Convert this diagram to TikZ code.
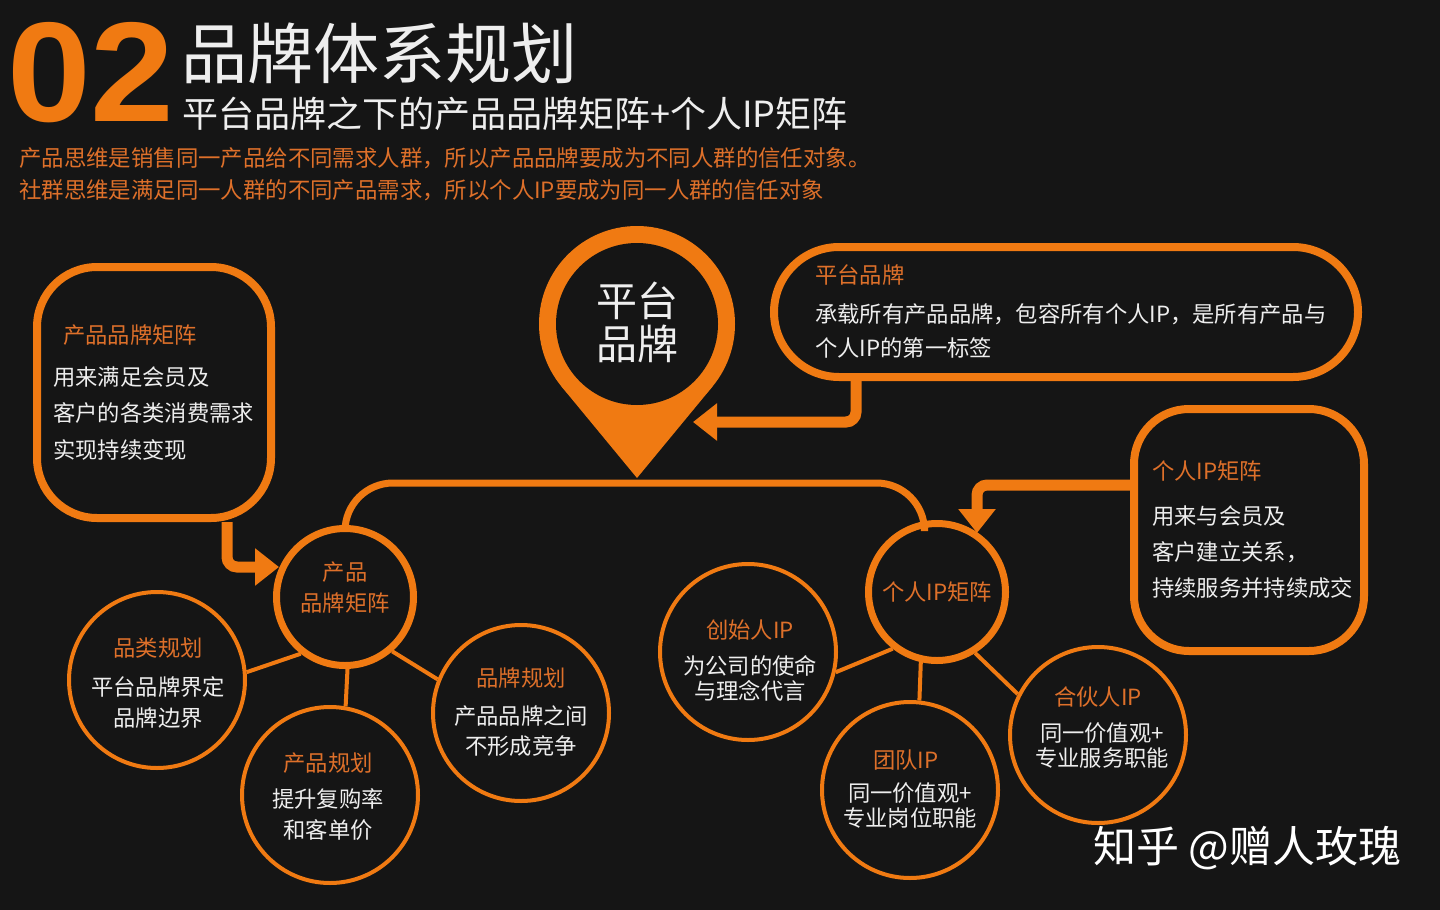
\documentclass[tikz,border=0pt]{standalone}
\usepackage{fontspec}
\setmainfont{Noto Sans CJK SC}
\newfontfamily\numfont{Liberation Sans}
\usetikzlibrary{arrows.meta}
\definecolor{bg}{RGB}{21,21,21}
\definecolor{org}{RGB}{240,122,18}
\definecolor{otxt}{RGB}{222,112,42}
\definecolor{wtxt}{RGB}{238,238,238}
\tikzset{
  bigc/.style={circle, draw=org, line width=7pt, minimum size=137pt, inner sep=0pt},
  satc/.style={circle, draw=org, line width=4pt, minimum size=176pt, inner sep=0pt},
  infobox/.style={draw=org, line width=8pt, inner sep=0pt},
  link/.style={draw=org, line width=4pt},
  bigarrow/.style={draw=org, line width=11pt, rounded corners=10pt, -{Triangle[length=24pt,width=36pt]}},
  ot/.style={text=otxt, font=\fontsize{22.3}{26}\selectfont, inner sep=0pt},
  wt/.style={text=wtxt, font=\fontsize{22.3}{26}\selectfont, inner sep=0pt},
}
\begin{document}
\begin{tikzpicture}[x=1pt,y=-1pt]
\useasboundingbox (0,0) rectangle (1440,910);
\fill[bg] (0,0) rectangle (1440,910);

% header
\node[anchor=base west, text=org, font=\numfont\bfseries\fontsize{142}{142}\selectfont, inner sep=0pt] (num) at (7,121) {\scalebox{1.06}[1]{02}};
\node[anchor=base west, text=wtxt, font=\fontsize{66}{72}\selectfont, inner sep=0pt] (title) at (181,78) {品牌体系规划};
\node[anchor=base west, text=wtxt, font=\fontsize{36}{40}\selectfont, inner sep=0pt] (subtitle) at (182,127) {平台品牌之下的产品品牌矩阵+个人IP矩阵};
\node[anchor=west, text=otxt, font=\fontsize{22.4}{26}\selectfont, inner sep=0pt] (line1) at (19,158) {产品思维是销售同一产品给不同需求人群，所以产品品牌要成为不同人群的信任对象。};
\node[anchor=west, text=otxt, font=\fontsize{22.4}{26}\selectfont, inner sep=0pt] (line2) at (19,190) {社群思维是满足同一人群的不同产品需求，所以个人IP要成为同一人群的信任对象};

% pin
\fill[org] (637,324) circle[radius=98pt];
\fill[org] (637,478) -- (561.4,386.4) -- (712.6,386.4) -- cycle;
\fill[bg] (637,324) circle[radius=81pt];
\node[text=wtxt, font=\fontsize{41}{43}\selectfont, align=center, inner sep=0pt] (pin) at (637,322) {平台\\品牌};

% main circles
\node[bigc] (pm) at (345,597) {};
\node[bigc] (im) at (937,592) {};
\node[ot] (pmt1) at (345,572) {产品};
\node[ot] (pmt2) at (345,603) {品牌矩阵};
\node[ot] (imt) at (937,592) {个人IP矩阵};

% trunk line
\coordinate (trunk) at (637,483);
\draw[org, line width=7pt, rounded corners=48pt] (pm.north) |- (trunk) -| (im.100);

% satellite circles left
\node[satc] (c1) at (157,680) {};
\node[satc] (c2) at (330,795) {};
\node[satc] (c3) at (521,713) {};
\node[ot] (c1a) at (158,648) {品类规划};
\node[wt] (c1b) at (158,687) {平台品牌界定};
\node[wt] (c1c) at (158,718) {品牌边界};
\node[ot] (c2a) at (328,763) {产品规划};
\node[wt] (c2b) at (328,799) {提升复购率};
\node[wt] (c2c) at (328,830) {和客单价};
\node[ot] (c3a) at (521,678) {品牌规划};
\node[wt] (c3b) at (521,716) {产品品牌之间};
\node[wt] (c3c) at (521,746) {不形成竞争};
\draw[link] (pm.232) -- (c1.5);
\draw[link] (pm.272) -- (c2.80);
\draw[link] (pm.311) -- (c3.158);

% satellite circles right
\node[satc] (d1) at (748,652) {};
\node[satc] (d2) at (910,790) {};
\node[satc] (d3) at (1098,735) {};
\node[ot] (d1a) at (750,630) {创始人IP};
\node[wt] (d1b) at (750,666) {为公司的使命};
\node[wt] (d1c) at (750,691) {与理念代言};
\node[ot] (d2a) at (906,760) {团队IP};
\node[wt] (d2b) at (910,793) {同一价值观+};
\node[wt] (d2c) at (910,818) {专业岗位职能};
\node[ot] (d3a) at (1098,697) {合伙人IP};
\node[wt] (d3b) at (1102,733) {同一价值观+};
\node[wt] (d3c) at (1102,758) {专业服务职能};
\draw[link] (im.232) -- (d1.347);
\draw[link] (im.257) -- (d2.84);
\draw[link] (im.302) -- (d3.153);

% info boxes
\node[infobox, rounded corners=60pt, minimum width=234pt, minimum height=251pt] (b1) at (154,392.5) {};
\node[ot, anchor=west] (b1t) at (63,335) {产品品牌矩阵};
\node[wt, anchor=west] (b1l1) at (53,377) {用来满足会员及};
\node[wt, anchor=west] (b1l2) at (53,413) {客户的各类消费需求};
\node[wt, anchor=west] (b1l3) at (53,450) {实现持续变现};

\node[infobox, rounded corners=65pt, minimum width=584pt, minimum height=130pt] (b2) at (1066,312) {};
\node[ot, anchor=west] (b2t) at (815,275) {平台品牌};
\node[wt, anchor=west] (b2l1) at (815,314) {承载所有产品品牌，包容所有个人IP，是所有产品与};
\node[wt, anchor=west] (b2l2) at (815,348) {个人IP的第一标签};

\node[infobox, rounded corners=55pt, minimum width=230pt, minimum height=242pt] (b3) at (1249,530) {};
\node[ot, anchor=west] (b3t) at (1152,471) {个人IP矩阵};
\node[wt, anchor=west] (b3l1) at (1152,516) {用来与会员及};
\node[wt, anchor=west] (b3l2) at (1152,552) {客户建立关系，};
\node[wt, anchor=west] (b3l3) at (1152,588) {持续服务并持续成交};

% arrows
\coordinate (a1c) at (856,422);
\coordinate (a1e) at (693,422);
\draw[bigarrow] (b2.south -| a1c) -- (a1c) -- (a1e);
\coordinate (a2c) at (227,567);
\coordinate (a2e) at (279,567);
\draw[bigarrow] (b1.south -| a2c) -- (a2c) -- (a2e);
\coordinate (a3c) at (977,485);
\coordinate (a3e) at (977,533);
\draw[bigarrow] (b3.west |- a3c) -- (a3c) -- (a3e);

% watermark
\node[anchor=west, text=white, font=\fontsize{43}{46}\selectfont, inner sep=0pt] (wm) at (1093,848) {知乎 @赠人玫瑰};
\end{tikzpicture}
\end{document}
